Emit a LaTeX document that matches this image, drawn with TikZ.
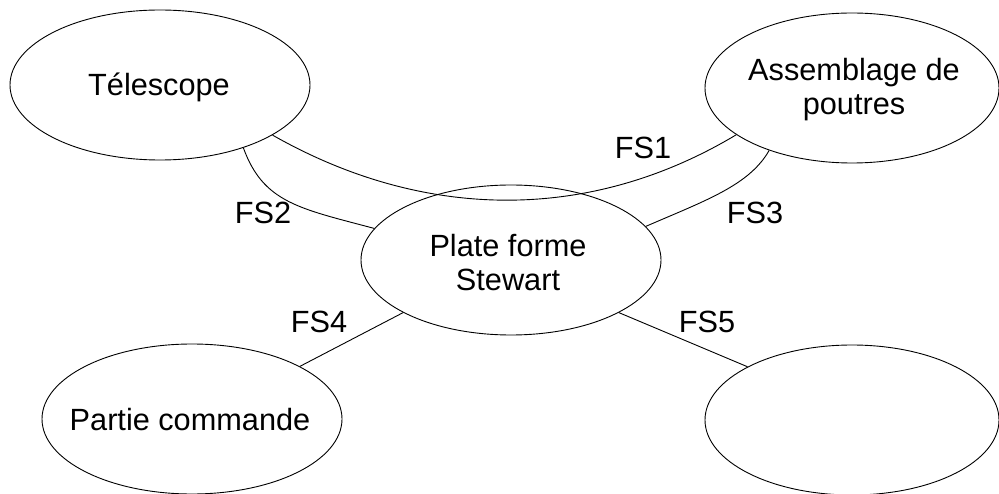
\documentclass[tikz,border=0pt]{standalone}
\usepackage{fontspec}
\setmainfont{Liberation Sans}
\usetikzlibrary{shapes.geometric}
\begin{document}
\begin{tikzpicture}[x=1pt,y=-1pt,
  ellbox/.style={draw=black, line width=0.9pt, ellipse, inner sep=0pt, minimum width=300pt, minimum height=150pt},
  wideell/.style={ellbox, minimum width=294pt},
  txt/.style={font=\fontsize{30.7}{34}\selectfont, align=center, inner sep=0pt},
  link/.style={draw=black, line width=0.9pt},
  fs/.style={font=\fontsize{30.7}{34}\selectfont, inner sep=0pt}]
\fill[white] (0,0) rectangle (999,494);
\useasboundingbox (0,0) rectangle (999,494);

% ellipses
\node[ellbox] (tel) at (160,85) {};
\node[wideell] (asm) at (852,88) {};
\node[ellbox] (pf) at (511,260) {};
\node[ellbox] (pc) at (192,419) {};
\node[wideell] (br) at (852,420) {};

% texts
\node[txt] (telT) at (159,87) {Télescope};
\node[txt] (asmT) at (854,90) {Assemblage de\\poutres};
\node[txt] (pfT) at (508,263) {Plate forme\\Stewart};
\node[txt] (pcT) at (190,420) {Partie commande};

% connectors
\draw[link] (tel.-24) .. controls +(153,87) and +(-145,87) .. (asm.-158.5);
\draw[link] (tel.-37.5) .. controls +(20,55) and +(-75,-20) .. (pf.167);
\draw[link] (pf.14.5) .. controls +(60,-26) and +(-20,35) .. (asm.-143.6);
\draw[link] (pf.-154.9) -- (pc.26.1);
\draw[link] (pf.-26.3) -- (br.153.4);

% labels
\node[fs] (fs1) at (643,148) {FS1};
\node[fs] (fs2) at (263,213) {FS2};
\node[fs] (fs3) at (755,213) {FS3};
\node[fs] (fs4) at (319,322) {FS4};
\node[fs] (fs5) at (707,322) {FS5};
\end{tikzpicture}
\end{document}
